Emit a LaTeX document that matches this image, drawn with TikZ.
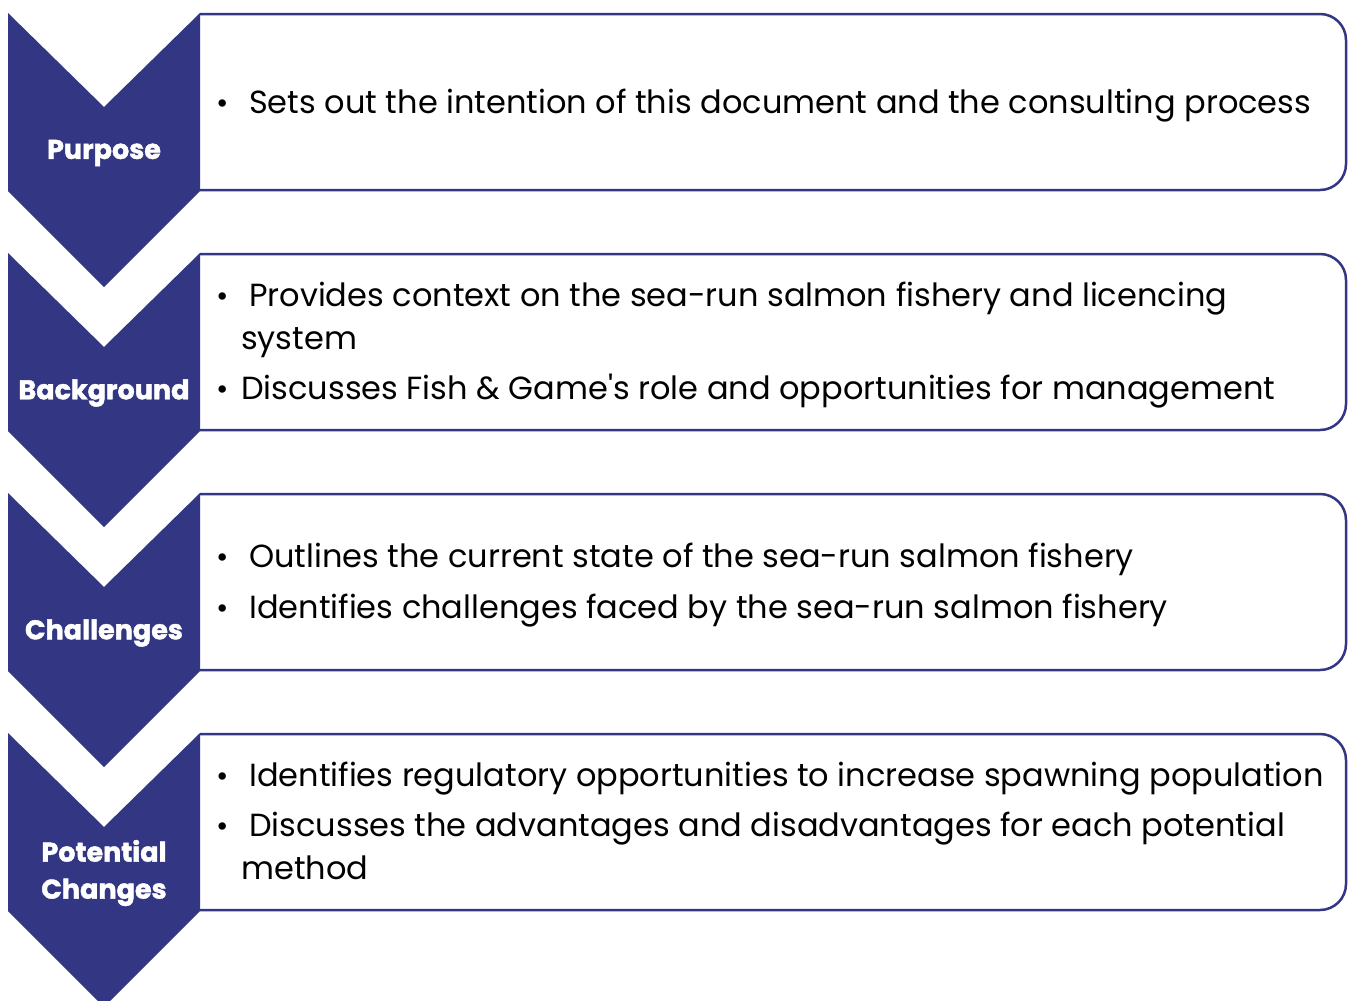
\documentclass[tikz,border=0pt]{standalone}
\usepackage{fontspec}
\setmainfont{Poppins}
\newfontfamily\lblfont{Poppins Bold}[FakeBold=1.6]
\definecolor{navy}{HTML}{333683}
\tikzset{
  chev/.style={fill=navy},
  panel/.style={draw=navy, line width=2.5pt, rounded corners=26pt},
  lbl/.style={text=white, font=\fontsize{27}{37}\selectfont\lblfont, align=center, inner sep=0pt},
  item/.style={anchor=base west, font=\fontsize{32}{34}\selectfont, inner sep=0pt},
  bul/.style={anchor=base, font=\fontsize{30}{34}\selectfont, inner sep=0pt}
}
\begin{document}
\begin{tikzpicture}[x=1pt,y=-1pt]
\useasboundingbox[fill=white] (0,0) rectangle (1349,1001);
\foreach \o in {0,240,480,720} {
  \draw[panel] (200,14+\o) -- (1346,14+\o) -- (1346,190+\o) -- (200,190+\o);
  \fill[chev] (8,13+\o) -- (104,107+\o) -- (200,13+\o) -- (200,191+\o) -- (104,287+\o) -- (8,191+\o) -- cycle;
}
\node[lbl] (l1) at (104,153) {Purpose};
\node[lbl] (l2) at (104,393) {Background};
\node[lbl] (l3) at (104,633) {Challenges};
\node[lbl] (l4) at (104,873) {Potential\\Changes};

\node[bul] (b1) at (223,113) {•};
\node[item] (t1) at (249,113) {Sets out the intention of this document and the consulting process};

\node[bul] (b2) at (223,306) {•};
\node[item] (t2) at (249,306) {Provides context on the sea-run salmon fishery and licencing};
\node[item] (t2b) at (241,349) {system};
\node[bul] (b3) at (223,399) {•};
\node[item] (t3) at (241,399) {Discusses Fish \& Game\textquotesingle s role and opportunities for management};

\node[bul] (b4) at (223,567) {•};
\node[item] (t4) at (249,567) {Outlines the current state of the sea-run salmon fishery};
\node[bul] (b5) at (223,618) {•};
\node[item] (t5) at (249,618) {Identifies challenges faced by the sea-run salmon fishery};

\node[bul] (b6) at (223,786) {•};
\node[item] (t6) at (249,786) {Identifies regulatory opportunities to increase spawning population};
\node[bul] (b7) at (223,836) {•};
\node[item] (t7) at (249,836) {Discusses the advantages and disadvantages for each potential};
\node[item] (t7b) at (241,879) {method};
\end{tikzpicture}
\end{document}
